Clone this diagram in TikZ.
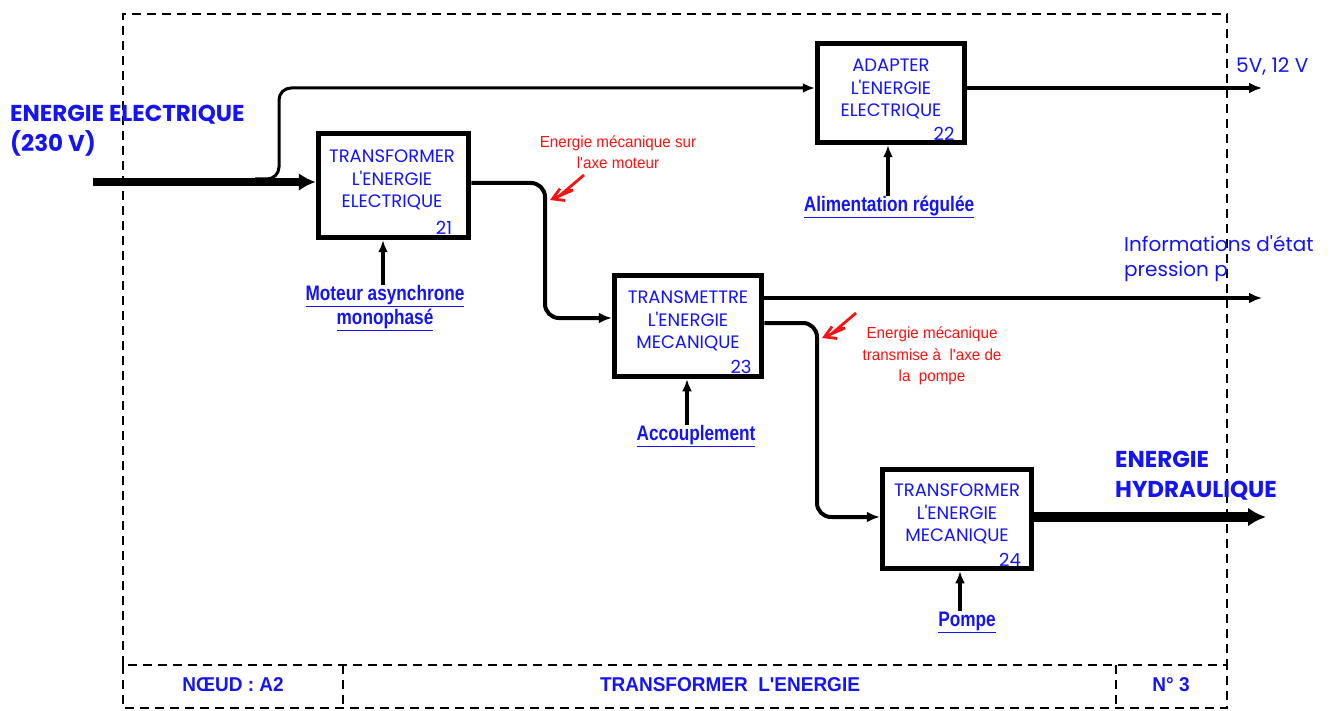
\documentclass[tikz,border=0pt]{standalone}
\usepackage{fontspec}
\setmainfont{Poppins}
\newfontfamily\gothic{Poppins}
\newfontfamily\narrowA[FakeStretch=0.82]{Liberation Sans}
\newfontfamily\narrowB[FakeStretch=0.95]{Liberation Sans}
\usetikzlibrary{arrows.meta}
\definecolor{tblue}{RGB}{20,20,245}
\definecolor{tred}{RGB}{245,20,20}
\newcommand{\ul}[1]{\underline{#1}}
\tikzset{
  fbox/.style={draw, line width=5.5pt, fill=white, inner sep=0pt},
  btext/.style={text=tblue, align=center, font=\gothic\fontsize{18}{22.5}\selectfont, inner sep=0pt},
  bnum/.style={text=tblue, font=\gothic\fontsize{18}{18}\selectfont, inner sep=0pt},
  flow/.style={line width=4pt, -{Latex[length=13pt,width=11pt]}, rounded corners=14pt},
  thinflow/.style={line width=3pt, -{Latex[length=12pt,width=10pt]}, rounded corners=12pt},
  bigflow/.style={line width=8.5pt, -{Latex[length=17pt,width=18pt]}},
  mech/.style={line width=3.3pt, -{Latex[length=12pt,width=10pt]}},
  mlabel/.style={text=tblue, align=center, font=\narrowA\bfseries\fontsize{21}{24}\selectfont, inner sep=0pt},
  rlabel/.style={text=tred, align=center, font=\narrowB\fontsize{16}{21.5}\selectfont, inner sep=0pt},
  biglabel/.style={text=tblue, align=left, font=\gothic\bfseries\fontsize{23}{30}\selectfont, inner sep=0pt},
  outlabel/.style={text=tblue, align=left, font=\gothic\fontsize{20}{25}\selectfont, inner sep=0pt},
  foot/.style={text=tblue, font=\narrowB\bfseries\fontsize{20}{22}\selectfont, inner sep=0pt},
  frame/.style={line width=2.4pt, dash pattern=on 9pt off 6pt},
  bolt/.style={tred, line width=2.8pt, -{Straight Barb[length=11pt,width=13pt]}},
}
\begin{document}
\begin{tikzpicture}[x=1pt,y=-1pt]
\useasboundingbox (0,0) rectangle (1333,711);
% frame
\draw[frame] (123,665) -- (123,14) -- (1227,14) -- (1227,665);
\draw[frame] (123,665) rectangle (1227,708);
\draw[frame] (343,665) -- (343,708);
\draw[frame] (1116,665) -- (1116,708);
\node[foot] (f1) at (233,685) {NŒUD : A2};
\node[foot] (f2) at (730,685) {TRANSFORMER\ \ L'ENERGIE};
\node[foot] (f3) at (1171,685) {N° 3};

% boxes
\node[fbox, minimum width=150pt, minimum height=104pt] (B21) at (393.5,185.5) {};
\node[fbox, minimum width=147pt, minimum height=99pt] (B22) at (891,93) {};
\node[fbox, minimum width=147pt, minimum height=101pt] (B23) at (688,326) {};
\node[fbox, minimum width=149pt, minimum height=99pt] (B24) at (957,519) {};
\node[btext] (T21) at (392,180) {TRANSFORMER\\L'ENERGIE\\ELECTRIQUE};
\node[btext] (T22) at (891,89) {ADAPTER\\L'ENERGIE\\ELECTRIQUE};
\node[btext] (T23) at (688,321) {TRANSMETTRE\\L'ENERGIE\\MECANIQUE};
\node[btext] (T24) at (957,514) {TRANSFORMER\\L'ENERGIE\\MECANIQUE};
\node[bnum] (N21) at (444,228) {21};
\node[bnum] (N22) at (944,134) {22};
\node[bnum] (N23) at (741,367) {23};
\node[bnum] (N24) at (1010,560) {24};

% input
\node[biglabel, anchor=west] (EE) at (10,131) {ENERGIE ELECTRIQUE\\(230 V)};
\coordinate (in) at (93,182);
\coordinate (br) at (255,179);
\draw[bigflow] (in) -- (in -| B21.west);
\draw[thinflow] (br) -- (279,179) -- (279,88) -- (B22.west |- 0,88);

% outputs
\coordinate (o22) at (1262,88);
\draw[flow] (B22.east |- o22) -- (o22);
\node[outlabel, anchor=west] (V) at (1236,67) {5V,\ 12 V};

\draw[flow] (B21.east |- 0,183) -- (545,183) -- (545,318) -- (B23.west |- 0,318);
\coordinate (o23) at (1262,298);
\draw[flow] (B23.east |- o23) -- (o23);
\node[outlabel, anchor=west] (INF) at (1124,259) {Informations d'état\\pression p};
\draw[flow] (B23.east |- 0,323) -- (817,323) -- (817,517) -- (B24.west |- 0,517);
\coordinate (o24) at (1266,517);
\draw[line width=9.5pt, -{Latex[length=18pt,width=19pt]}] (B24.east |- o24) -- (o24);
\node[biglabel, anchor=west] (EH) at (1115,476) {ENERGIE\\HYDRAULIQUE};

% mechanisms
\node[mlabel] (M21) at (385,308) {\ul{Moteur asynchrone}\\\ul{monophasé}};
\node[mlabel] (M22) at (889,207) {\ul{Alimentation régulée}};
\node[mlabel] (M23) at (696,436) {\ul{Accouplement}};
\node[mlabel] (M24) at (967,622) {\ul{Pompe}};
\draw[mech] (M21.north -| 383,0) -- (B21.south -| 383,0);
\draw[mech] (M22.north -| 888,0) -- (B22.south -| 888,0);
\draw[mech] (M23.north -| 687,0) -- (B23.south -| 687,0);
\draw[mech] (M24.north -| 960,0) -- (B24.south -| 960,0);

% red annotations
\node[rlabel] (R1) at (618,152) {Energie mécanique sur\\l'axe moteur};
\node[rlabel] (R2) at (932,356) {Energie mécanique\\transmise à\ \ l'axe de\\la\ \ pompe};
\draw[bolt] (584,175) -- (564,192) -- (573,190) -- (550,200);
\draw[bolt] (856,313) -- (836,330) -- (845,328) -- (822,338);
\end{tikzpicture}
\end{document}
